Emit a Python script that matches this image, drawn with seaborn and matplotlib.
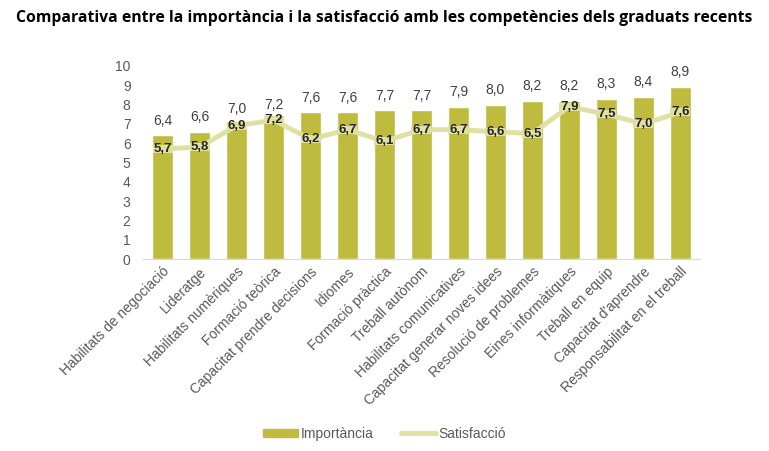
import numpy as np
import pandas as pd
import matplotlib
matplotlib.use('Agg')
import matplotlib.pyplot as plt
import seaborn as sns
from matplotlib.patches import Patch
from matplotlib.lines import Line2D

# Dades de la figura
competencies = ['Habilitats de negociació', 'Lideratge', 'Habilitats numèriques',
                'Formació teòrica', 'Capacitat prendre decisions', 'Idiomes',
                'Formació pràctica', 'Treball autònom', 'Habilitats comunicatives',
                'Capacitat generar noves idees', 'Resolució de problemes',
                'Eines informàtiques', 'Treball en equip', "Capacitat d'aprendre",
                'Responsabilitat en el treball']
importancia = [6.4, 6.6, 7.0, 7.2, 7.6, 7.6, 7.7, 7.7, 7.9, 8.0, 8.2, 8.2, 8.3, 8.4, 8.9]
satisfaccio = [5.7, 5.8, 6.9, 7.2, 6.2, 6.7, 6.1, 6.7, 6.7, 6.6, 6.5, 7.9, 7.5, 7.0, 7.6]

df = pd.DataFrame({'competencia': competencies,
                   'importancia': importancia,
                   'satisfaccio': satisfaccio})

sns.set_style('white')
plt.rcParams['font.family'] = ['Liberation Sans', 'DejaVu Sans']

bar_col = '#BFBB3F'
line_col = '#E0E0A2'
txt_col = '#595959'

fig = plt.figure(figsize=(7.69, 4.51), dpi=100)
ax = fig.add_axes([0.186, 0.4257, 0.724, 0.428])

sns.barplot(data=df, x='competencia', y='importancia', color=bar_col,
            width=0.57, saturation=1, ax=ax)

x = np.arange(len(df))
ax.plot(x, df['satisfaccio'], color=line_col, lw=3.5, zorder=3, clip_on=False)
# marcador rectangular ample (com el guió d'Excel)
rect = [(-1.25, -0.45), (1.25, -0.45), (1.25, 0.45), (-1.25, 0.45), (-1.25, -0.45)]
ax.scatter(x, df['satisfaccio'], marker=rect, s=210, color=line_col,
           linewidths=0, zorder=3.5, clip_on=False)

for i, v in enumerate(df['importancia']):
    ax.text(i, v + 0.4, f'{v:.1f}'.replace('.', ','), ha='center', va='bottom',
            fontsize=10, color='#404040')
for i, v in enumerate(df['satisfaccio']):
    ax.text(i, v, f'{v:.1f}'.replace('.', ','), ha='center', va='center',
            fontsize=9.5, fontweight='bold', color='#262626', zorder=4)

ax.set_xlim(-0.53, 14.53)
ax.set_ylim(0, 10)
ax.set_yticks(range(0, 11))
ax.set_xlabel('')
ax.set_ylabel('')
ax.tick_params(axis='y', length=0, labelsize=10, labelcolor=txt_col, pad=9)
ax.tick_params(axis='x', length=0, labelsize=10, labelcolor=txt_col, pad=4)
plt.setp(ax.get_xticklabels(), rotation=45, ha='right', rotation_mode='anchor')
for s in ['top', 'right', 'left']:
    ax.spines[s].set_visible(False)
ax.spines['bottom'].set_color('#D9D9D9')

fig.text(0.5, 0.96, 'Comparativa entre la importància i la satisfacció amb les competències dels graduats recents',
         ha='center', va='center', fontsize=11.3, fontweight='bold', color='black',
         family=['Open Sans', 'DejaVu Sans'])

handles = [Patch(color=bar_col, label='Importància'),
           Line2D([0], [0], color=line_col, lw=3.5, label='Satisfacció')]
fig.legend(handles=handles, loc='center', bbox_to_anchor=(0.5, 0.038), ncol=2,
           frameon=False, fontsize=10, labelcolor=txt_col, handlelength=2.5,
           handleheight=0.5, columnspacing=2, handletextpad=0.2)

fig.savefig('out.png', dpi=100)
